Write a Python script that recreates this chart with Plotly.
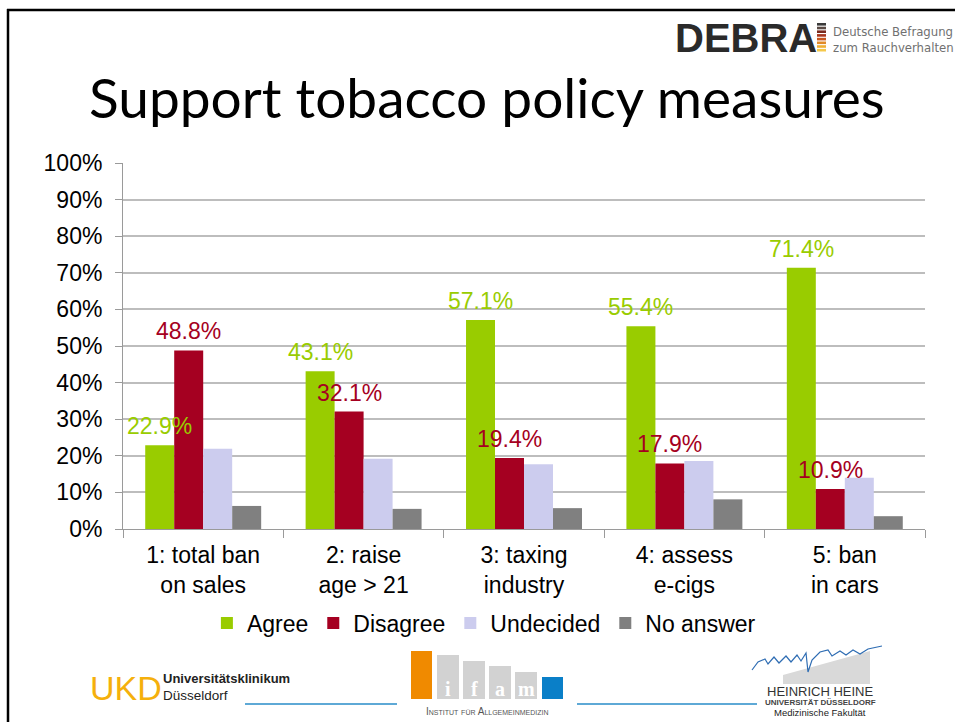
import plotly.graph_objects as go

# ---- data -------------------------------------------------------------
categories = [
    "1: total ban<br>on sales",
    "2: raise<br>age > 21",
    "3: taxing<br>industry",
    "4: assess<br>e-cigs",
    "5: ban<br>in cars",
]
agree = [22.9, 43.1, 57.1, 55.4, 71.4]
disagree = [48.8, 32.1, 19.4, 17.9, 10.9]
undecided = [21.9, 19.2, 17.7, 18.6, 14.0]
no_answer = [6.3, 5.5, 5.7, 8.1, 3.5]

series_names = ["Agree", "Disagree", "Undecided", "No answer"]
series_values = [agree, disagree, undecided, no_answer]
series_colors = ["#99cc00", "#a50021", "#ccccee", "#808080"]
series_labelled = [True, True, False, False]
y_ticks = list(range(0, 101, 10))

# ---- page geometry ----------------------------------------------------
W, H = 955, 722
L, R, T, B = 123, 30, 163, 193
PLOT_W = W - L - R
PLOT_H = H - T - B
BARGAP = 0.277
FONT = "Liberation Sans, Arial, sans-serif"


def px(x):
    """page pixel x -> paper coordinate"""
    return (x - L) / PLOT_W


def py(y):
    """page pixel y (from top) -> paper coordinate"""
    return (H - B - y) / PLOT_H


fig = go.Figure()
for name, vals, color in zip(series_names, series_values, series_colors):
    fig.add_trace(go.Bar(
        name=name, x=categories, y=vals,
        marker=dict(color=color, line=dict(width=0)),
        hoverinfo="skip",
    ))

annotations = []
shapes = []

# value labels above the Agree / Disagree bars
n_series = len(series_names)
for s, (vals, color, show) in enumerate(zip(series_values, series_colors, series_labelled)):
    if not show:
        continue
    offset = (s - (n_series - 1) / 2) * (1 - BARGAP) / n_series
    for i, v in enumerate(vals):
        annotations.append(dict(
            x=i + offset, y=v, xref="x", yref="y",
            text=f"{v:.1f}%", showarrow=False,
            xanchor="center", yanchor="middle", yshift=19,
            font=dict(family=FONT, size=23, color=color),
        ))

# slide title
annotations.append(dict(
    x=px(487), y=py(97), xref="paper", yref="paper",
    text="Support tobacco policy measures", showarrow=False,
    xanchor="center", yanchor="middle",
    font=dict(family="Lato, sans-serif", size=55, color="#000000"),
))

# slide frame
shapes.append(dict(type="line", xref="paper", yref="paper",
                   x0=px(7), x1=px(960), y0=py(10), y1=py(10),
                   line=dict(color="#000000", width=2.5)))
shapes.append(dict(type="line", xref="paper", yref="paper",
                   x0=px(8), x1=px(8), y0=py(9), y1=py(730),
                   line=dict(color="#000000", width=2.5)))

# DEBRA header logo
annotations.append(dict(
    x=px(673), y=py(38), xref="paper", yref="paper",
    text="<b>DEBRA</b>", showarrow=False, xanchor="left", yanchor="middle",
    font=dict(family=FONT, size=40, color="#2a2a2a"),
))
stripe_colors = ["#3a3a3a", "#5a4a44", "#7a2a1e", "#a8361e", "#c8561e",
                 "#e08a28", "#eeae34", "#f5c84a"]
for k, c in enumerate(stripe_colors):
    y0 = 23 + k * 3.7
    shapes.append(dict(type="rect", xref="paper", yref="paper",
                       x0=px(817), x1=px(826), y0=py(y0 + 2.6), y1=py(y0),
                       line=dict(width=0), fillcolor=c))
for text, yy in [("Deutsche Befragung", 32), ("zum Rauchverhalten", 47)]:
    annotations.append(dict(
        x=px(831), y=py(yy), xref="paper", yref="paper",
        text=text, showarrow=False, xanchor="left", yanchor="middle",
        font=dict(family="DejaVu Sans Condensed, DejaVu Sans, sans-serif", size=13, color="#707070"),
    ))

# footer: UKD logo
annotations.append(dict(
    x=px(88), y=py(688), xref="paper", yref="paper",
    text="UKD", showarrow=False, xanchor="left", yanchor="middle",
    font=dict(family=FONT, size=34, color="#f5b00c", weight=500),
))
annotations.append(dict(
    x=px(161), y=py(678), xref="paper", yref="paper",
    text="<b>Universitätsklinikum</b>", showarrow=False, xanchor="left", yanchor="middle",
    font=dict(family=FONT, size=13, color="#222222"),
))
annotations.append(dict(
    x=px(161), y=py(695), xref="paper", yref="paper",
    text="Düsseldorf", showarrow=False, xanchor="left", yanchor="middle",
    font=dict(family=FONT, size=13.5, color="#222222"),
))
for x0, x1 in [(245, 397), (577, 757)]:
    shapes.append(dict(type="line", xref="paper", yref="paper",
                       x0=px(x0), x1=px(x1), y0=py(704), y1=py(704),
                       line=dict(color="#5ea9d6", width=2)))

# footer: ifam logo
ifam_blocks = [
    (411, 432, 651, "#f08a00", ""),
    (437, 459, 655, "#d2d2d2", "i"),
    (463, 485, 661, "#d2d2d2", "f"),
    (489, 511, 666, "#d2d2d2", "a"),
    (515, 537, 672, "#d2d2d2", "m"),
    (542, 563, 677, "#0a7fc8", ""),
]
for x0, x1, top, c, letter in ifam_blocks:
    shapes.append(dict(type="rect", xref="paper", yref="paper",
                       x0=px(x0), x1=px(x1), y0=py(699), y1=py(top),
                       line=dict(width=0), fillcolor=c))
    if letter:
        annotations.append(dict(
            x=px((x0 + x1) / 2), y=py(689), xref="paper", yref="paper",
            text=f"<b>{letter}</b>", showarrow=False, xanchor="center", yanchor="middle",
            font=dict(family="Liberation Serif, serif", size=20, color="#ffffff"),
        ))
annotations.append(dict(
    x=px(487), y=py(711), xref="paper", yref="paper",
    text="Institut für Allgemeinmedizin", showarrow=False, xanchor="center", yanchor="middle",
    font=dict(family=FONT, size=10, color="#555555", variant="small-caps"),
))

# footer: Heinrich Heine logo
poly = [(783, 684), (783, 675), (870, 651), (870, 684)]
path = "M " + " L ".join(f"{px(x)},{py(y)}" for x, y in poly) + " Z"
shapes.append(dict(type="path", xref="paper", yref="paper", path=path,
                   line=dict(width=0), fillcolor="#d9d9d9"))
sig = [(752, 670), (758, 662), (765, 659), (768, 664), (774, 657), (779, 663),
       (786, 656), (791, 662), (797, 655), (801, 661), (806, 653), (808, 672),
       (812, 660), (820, 652), (828, 650), (832, 656), (840, 651), (846, 655),
       (853, 650), (860, 654), (868, 649), (882, 646)]
sig_path = "M " + " L ".join(f"{px(x)},{py(y)}" for x, y in sig)
shapes.append(dict(type="path", xref="paper", yref="paper", path=sig_path,
                   line=dict(color="#2f6db3", width=1.2)))
annotations.append(dict(
    x=px(820), y=py(691), xref="paper", yref="paper",
    text="HEINRICH HEINE", showarrow=False, xanchor="center", yanchor="middle",
    font=dict(family=FONT, size=13, color="#333333"),
))
annotations.append(dict(
    x=px(820), y=py(702), xref="paper", yref="paper",
    text="<b>UNIVERSITÄT DÜSSELDORF</b>", showarrow=False, xanchor="center", yanchor="middle",
    font=dict(family=FONT, size=8, color="#444444"),
))
annotations.append(dict(
    x=px(820), y=py(712), xref="paper", yref="paper",
    text="Medizinische Fakultät", showarrow=False, xanchor="center", yanchor="middle",
    font=dict(family=FONT, size=9.5, color="#222222"),
))

fig.update_layout(
    width=W, height=H,
    margin=dict(l=L, r=R, t=T, b=B, pad=0),
    paper_bgcolor="#ffffff", plot_bgcolor="#ffffff",
    barmode="group", bargap=BARGAP, bargroupgap=0,
    font=dict(family=FONT, size=23, color="#000000"),
    showlegend=True,
    legend=dict(
        orientation="h", x=0.45, xanchor="center", y=py(623), yanchor="middle",
        font=dict(family=FONT, size=23, color="#000000"),
        bgcolor="rgba(0,0,0,0)", traceorder="normal",
    ),
    xaxis=dict(
        type="category", tickson="boundaries", ticks="outside", ticklen=8,
        tickcolor="#9a9a9a", showline=True, linecolor="#9a9a9a", linewidth=1,
        showgrid=False, tickfont=dict(family=FONT, size=23, color="#000000"),
        ticklabelstandoff=5, fixedrange=True,
    ),
    yaxis=dict(
        range=[0, 100], tickvals=y_ticks, ticktext=[f"{t}%" for t in y_ticks],
        ticks="outside", ticklen=7, tickcolor="#9a9a9a",
        showline=True, linecolor="#9a9a9a", linewidth=1,
        showgrid=True, gridcolor="#bdbdbd", gridwidth=1.5, zeroline=False,
        tickfont=dict(family=FONT, size=23, color="#000000"),
        ticklabelstandoff=8, fixedrange=True,
    ),
    annotations=annotations,
    shapes=shapes,
)

fig.write_html("out.html", config={"displayModeBar": False})
